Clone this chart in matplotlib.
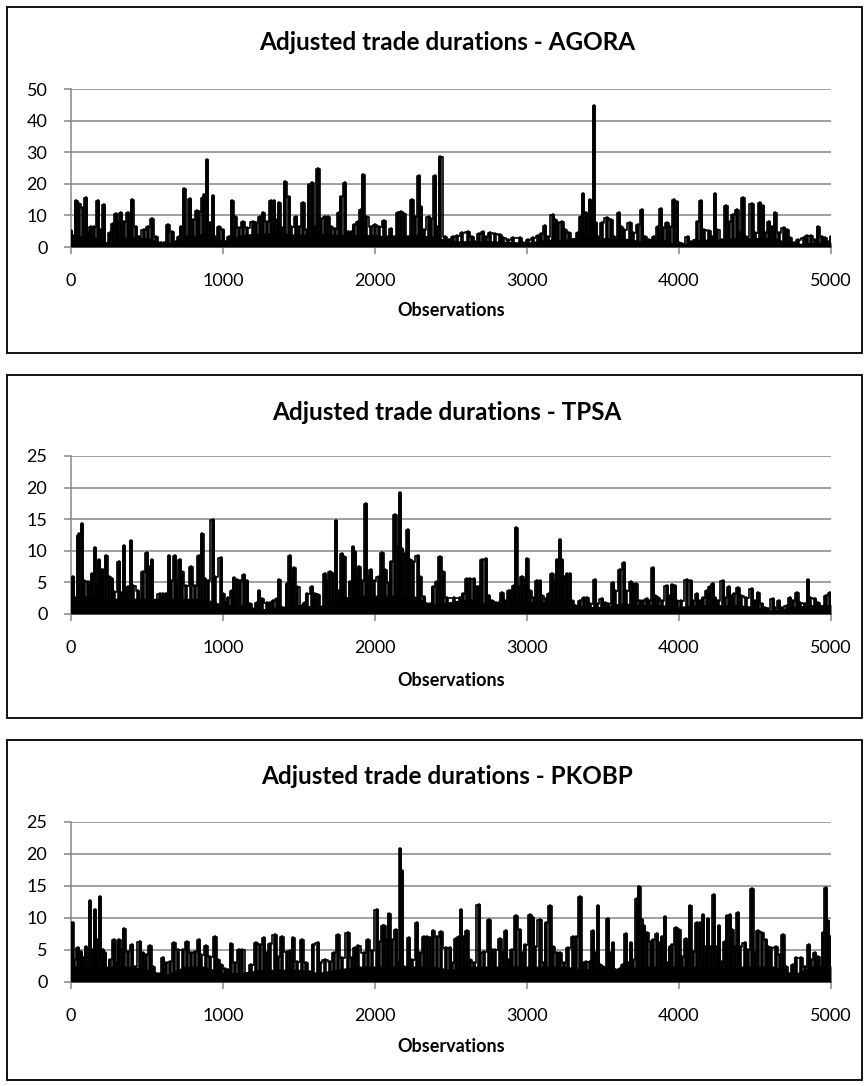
import matplotlib
matplotlib.use('Agg')
import matplotlib.pyplot as plt
from matplotlib.patches import Rectangle

plt.rcParams['font.family'] = ['Lato', 'DejaVu Sans']

W, H = 867, 1086

# ---------------- data ----------------
titles = ['Adjusted trade durations - AGORA',
          'Adjusted trade durations - TPSA',
          'Adjusted trade durations - PKOBP']
x_label = 'Observations'
x_ticks = [0, 1000, 2000, 3000, 4000, 5000]

# (observation, duration) key points of each series
agora_points = [
    (0, 5), (15, 3.5), (33, 14.7), (55, 13.5), (76, 12.4), (98, 15.4), (110, 4.3), (130, 6.4),
    (150, 6.4), (175, 14.6), (195, 5.4), (214, 13.3), (235, 1), (257, 4.3), (275, 7.2), (295, 10.4),
    (310, 8), (327, 10.9), (350, 8), (377, 10.7), (390, 7), (403, 14.9), (425, 6.4), (447, 3.3),
    (480, 5.4), (506, 6.4), (534, 9), (560, 3.3), (590, 1.2), (610, 1.2), (637, 7), (665, 4.9),
    (690, 1.7), (710, 3.3), (725, 6.4), (746, 18.4), (765, 3.3), (781, 15.2), (803, 8.5), (829, 11.5),
    (845, 11.2), (868, 15.4), (877, 16.5), (894, 27.5), (915, 7.5), (934, 16.1), (950, 3.3), (971, 6.2),
    (1000, 5.4), (1015, 1.7), (1040, 3.3), (1062, 14.6), (1080, 9.6), (1106, 5.9), (1134, 8), (1160, 6),
    (1195, 7.8), (1220, 7.5), (1243, 9.6), (1265, 10.7), (1290, 8), (1313, 14.6), (1335, 14.6), (1352, 8.5),
    (1370, 13.8), (1390, 5.9), (1411, 20.7), (1433, 15.7), (1450, 6.4), (1479, 9.6), (1500, 6.4), (1527, 14),
    (1550, 5.4), (1566, 19.6), (1588, 20.4), (1605, 6.4), (1625, 24.6), (1647, 9), (1669, 9.6), (1690, 9.6),
    (1712, 6.4), (1739, 5.6), (1760, 10.7), (1778, 15.9), (1800, 20.1), (1820, 4.9), (1843, 4.9), (1865, 7),
    (1887, 8), (1905, 11.7), (1924, 22.8), (1942, 9.6), (1975, 6.4), (2000, 7), (2025, 6.4), (2062, 8.3),
    (2080, 3.3), (2105, 5.6), (2125, 3.3), (2149, 10.7), (2171, 11.2), (2193, 10.4), (2215, 3.3), (2243, 14.9),
    (2265, 9.6), (2290, 22.5), (2300, 12.8), (2320, 5.4), (2352, 9.6), (2370, 9), (2395, 22.5), (2410, 6.4),
    (2428, 28.6), (2463, 3.3), (2490, 2.2), (2510, 3.3), (2540, 3.6), (2572, 4.3), (2612, 4.6), (2640, 3.3),
    (2660, 1.7), (2681, 4.1), (2708, 4.6), (2730, 3.3), (2758, 4.3), (2790, 4), (2823, 3.8), (2845, 2.7),
    (2878, 2.2), (2910, 2.7), (2954, 3), (2975, 1.4), (3008, 2.2), (3040, 2.7), (3074, 3.6), (3095, 4.1),
    (3118, 6.8), (3135, 3.3), (3168, 10.1), (3185, 8.5), (3205, 7.5), (3231, 8), (3250, 5.4), (3275, 4.3),
    (3305, 2.2), (3336, 4.3), (3353, 9.6), (3369, 16.8), (3385, 10.7), (3398, 7.5), (3414, 14.9), (3427, 14.3),
    (3441, 44.6), (3456, 7.5), (3470, 3.3), (3493, 7.5), (3526, 9.3), (3554, 8.5), (3575, 3.3), (3604, 10.9),
    (3620, 6.4), (3640, 5.4), (3676, 7.7), (3700, 4.3), (3728, 7), (3755, 11.7), (3777, 3.3), (3805, 2.2),
    (3838, 3.3), (3859, 6.4), (3881, 11.9), (3898, 5.9), (3920, 7.7), (3942, 6.4), (3964, 14.9), (3986, 14.1),
    (4000, 1.2), (4020, 1), (4056, 3.3), (4078, 1.7), (4110, 2.2), (4121, 8), (4143, 14.6), (4165, 5.4),
    (4198, 5), (4220, 3.3), (4235, 16.7), (4253, 5.4), (4285, 2.2), (4311, 13), (4329, 8), (4355, 10.1),
    (4383, 11.7), (4400, 4.3), (4422, 15.6), (4444, 3.3), (4481, 13.6), (4503, 4.3), (4531, 13.8), (4553, 13),
    (4568, 4.3), (4590, 7.8), (4612, 6.4), (4634, 10.9), (4656, 4.3), (4688, 6.1), (4710, 5.4), (4732, 2.7),
    (4754, 1.2), (4786, 2.2), (4820, 2.7), (4841, 3.5), (4867, 3.6), (4895, 2.2), (4917, 6.4), (4939, 3.3),
    (4961, 2.7), (4983, 1.7), (5000, 3.3),
]

tpsa_points = [
    (0, 3.7), (15, 5.8), (29, 2.6), (44, 12.3), (55, 12.7), (73, 14.3), (88, 5.3), (110, 5), (130, 5),
    (139, 6.3), (161, 10.4), (172, 4.5), (187, 8.5), (198, 6.9), (213, 6.9), (231, 9.1), (253, 5.8),
    (270, 5.5), (286, 3.5), (319, 8.2), (330, 3.3), (348, 10.8), (363, 3.7), (374, 4.2), (396, 11.5),
    (411, 4.5), (440, 3.6), (451, 2.1), (473, 6.6), (499, 9.7), (517, 7.4), (535, 8.5), (550, 2.1),
    (583, 3.2), (605, 3.2), (627, 3.2), (645, 9.1), (660, 5.3), (682, 9.1), (697, 5.3), (715, 8.5),
    (733, 6.6), (759, 4.5), (792, 7.4), (814, 4.5), (843, 9.2), (865, 12.6), (880, 5.5), (902, 5.3),
    (931, 14.8), (946, 5.8), (990, 8.8), (1001, 3.2), (1019, 1.7), (1034, 2.6), (1056, 3.7), (1071, 5.7),
    (1089, 5.4), (1111, 5.3), (1137, 6.2), (1155, 5.3), (1177, 1.6), (1199, 0.6), (1221, 1.7), (1239, 3.7),
    (1254, 2.4), (1287, 1.8), (1309, 1.8), (1331, 2.1), (1353, 2.4), (1371, 5.4), (1386, 1), (1408, 0.8),
    (1419, 4.8), (1441, 9.1), (1456, 5.3), (1470, 7.3), (1490, 4.2), (1518, 1.3), (1540, 1.8), (1555, 3.2),
    (1584, 4.2), (1606, 3.2), (1628, 3), (1650, 0.5), (1668, 6.4), (1683, 5.3), (1705, 6.6), (1723, 6.3),
    (1745, 14.7), (1760, 3.7), (1782, 9.5), (1797, 9), (1815, 1.6), (1837, 5), (1855, 10.6), (1870, 9.8),
    (1881, 5.8), (1896, 7.4), (1914, 5.3), (1940, 17.4), (1951, 5.8), (1973, 6.9), (1991, 5.3), (2024, 5.8),
    (2046, 9.6), (2068, 6.9), (2090, 4.9), (2108, 8.2), (2134, 15.7), (2149, 10.6), (2167, 19.1), (2178, 10.3),
    (2196, 9.5), (2215, 13.3), (2233, 8.5), (2251, 8.2), (2281, 9.2), (2299, 5.8), (2321, 2.7), (2343, 1.3),
    (2365, 1.6), (2383, 4.2), (2405, 5), (2427, 9), (2450, 6.6), (2475, 2.5), (2520, 2.5), (2562, 2.5),
    (2580, 3.2), (2606, 5.5), (2628, 5.5), (2650, 5.5), (2668, 4.2), (2683, 4.2), (2705, 8.5), (2731, 8.7),
    (2748, 2.9), (2770, 2.1), (2798, 1.8), (2813, 1.8), (2836, 3.3), (2858, 2.1), (2880, 3.7), (2895, 3.7),
    (2912, 4.5), (2930, 13.6), (2945, 4.2), (2967, 5.8), (2989, 5.3), (3000, 8.7), (3022, 3.7), (3044, 2.6),
    (3066, 5.3), (3083, 5.3), (3098, 2.9), (3127, 2.4), (3142, 3.2), (3164, 6.3), (3186, 5), (3197, 8.5),
    (3219, 11.7), (3230, 8.5), (3245, 5.8), (3263, 6.3), (3280, 6.4), (3296, 2.1), (3317, 1.3), (3350, 2.1),
    (3376, 2.6), (3394, 2.6), (3416, 1.6), (3449, 5.4), (3460, 1.6), (3492, 2.4), (3514, 1.8), (3536, 1.6),
    (3564, 4.9), (3580, 3.7), (3615, 6.9), (3635, 8), (3653, 3.7), (3683, 5.1), (3700, 4.8), (3718, 4.8),
    (3744, 2.1), (3766, 2.1), (3788, 2.4), (3805, 2.1), (3827, 7.2), (3843, 2.9), (3865, 2.6), (3887, 2.1),
    (3919, 4.5), (3937, 2.9), (3956, 4.6), (3974, 4.5), (3990, 2.1), (4012, 2.1), (4050, 5.4), (4076, 5.2),
    (4094, 2.1), (4116, 3.2), (4138, 2.1), (4160, 2.6), (4182, 3.7), (4204, 4.2), (4221, 4.8), (4236, 2.6),
    (4254, 2.1), (4287, 5.2), (4302, 2.6), (4328, 4.3), (4346, 2.9), (4363, 3.1), (4389, 4.1), (4411, 2.9),
    (4444, 2.6), (4481, 4), (4499, 2.1), (4521, 3.3), (4543, 1.6), (4565, 1), (4587, 0.8), (4616, 2.4),
    (4631, 1), (4659, 2), (4676, 1), (4708, 1.3), (4729, 2.6), (4751, 2.1), (4779, 3.3), (4796, 1.8),
    (4829, 1.6), (4849, 5.4), (4864, 2.6), (4893, 2.4), (4915, 1.8), (4937, 0.5), (4965, 2.9), (4991, 3.3),
    (5000, 3),
]

pkobp_points = [
    (0, 9.2), (10, 9.2), (22, 3.4), (44, 5.3), (66, 4.7), (81, 3.7), (99, 5.5), (113, 2.5), (125, 12.6),
    (143, 5), (156, 11.3), (172, 6.6), (191, 13.3), (209, 5), (224, 4.5), (242, 1.8), (257, 3.4), (286, 6.6),
    (300, 3), (319, 6.6), (337, 5), (348, 8.3), (374, 4.7), (400, 5.8), (418, 2.3), (451, 6.2), (473, 4.5),
    (491, 4.2), (523, 5.6), (539, 2.3), (567, 1), (583, 1.3), (604, 3.7), (626, 2.9), (649, 3.2), (675, 6.1),
    (704, 5), (737, 5), (765, 6.3), (792, 4.5), (814, 4.7), (840, 6.6), (858, 4.2), (890, 5.7), (913, 3.9),
    (949, 7.1), (966, 3.4), (988, 2.6), (1011, 2.1), (1033, 1.8), (1055, 5.9), (1077, 2.9), (1104, 5),
    (1128, 5), (1158, 1.3), (1186, 2.6), (1216, 6.1), (1243, 5.8), (1270, 6.9), (1287, 4.5), (1309, 5.9),
    (1342, 7.3), (1364, 3.9), (1386, 7.1), (1419, 4.7), (1441, 4.8), (1463, 6.8), (1489, 3.2), (1518, 6.6),
    (1544, 2.9), (1573, 1.6), (1595, 5.8), (1622, 6.1), (1639, 2.9), (1670, 3.4), (1705, 3.2), (1727, 4.5),
    (1754, 7.4), (1780, 3.7), (1824, 7.6), (1846, 3.7), (1868, 5.3), (1890, 5.7), (1925, 4.5), (1952, 6.5),
    (1979, 4.9), (2011, 11.3), (2029, 6.3), (2051, 8.8), (2062, 8.7), (2079, 6.6), (2094, 10.7), (2112, 6.6),
    (2138, 8.1), (2156, 2.9), (2167, 20.8), (2178, 17.4), (2193, 2.3), (2222, 6.8), (2244, 3.4), (2277, 9.2),
    (2294, 4.5), (2321, 7.1), (2343, 7.1), (2361, 6.8), (2383, 7.9), (2405, 7.1), (2431, 7.8), (2464, 5.3),
    (2492, 5.3), (2508, 2.9), (2530, 6.7), (2552, 7.1), (2567, 11.3), (2584, 7.1), (2606, 7.9), (2628, 3.4),
    (2650, 2.9), (2683, 12.1), (2694, 4.5), (2716, 4.7), (2753, 9.7), (2770, 5), (2792, 5), (2825, 6.7),
    (2843, 4.5), (2860, 7.9), (2880, 3.4), (2902, 5), (2930, 10.3), (2952, 8.2), (2967, 4.5), (2989, 5.8),
    (3022, 10.4), (3039, 10), (3054, 5.5), (3083, 9.7), (3109, 2.9), (3127, 9.2), (3153, 11.8), (3171, 5.5),
    (3197, 4.5), (3219, 4.5), (3241, 2.9), (3273, 5.3), (3302, 7.1), (3324, 7.1), (3350, 13.3), (3368, 2.9),
    (3390, 3.2), (3416, 3.2), (3431, 7.9), (3449, 4.5), (3466, 11.8), (3481, 2.6), (3503, 2.3), (3532, 9.9),
    (3547, 4.5), (3565, 6.1), (3580, 1.8), (3613, 2.1), (3630, 2.6), (3650, 7.5), (3668, 2.9), (3683, 6.1),
    (3700, 3.4), (3722, 12.9), (3740, 14.9), (3755, 9.7), (3770, 8.7), (3788, 7.6), (3814, 6.3), (3832, 6.6),
    (3853, 7.5), (3875, 6.1), (3890, 7.1), (3908, 10.2), (3925, 2.9), (3940, 5.5), (3952, 5.8), (3980, 8.4),
    (4002, 8.2), (4018, 3.9), (4044, 6.7), (4061, 5), (4072, 11.8), (4094, 4.7), (4116, 9.2), (4138, 9.2),
    (4160, 10.4), (4175, 5.5), (4193, 9.8), (4208, 5.5), (4231, 13.6), (4247, 5.5), (4263, 8.7), (4280, 3.2),
    (4302, 6.3), (4317, 10.3), (4335, 10.5), (4350, 8.2), (4368, 5.5), (4385, 10.8), (4400, 5.5), (4433, 6.1),
    (4455, 5), (4483, 14.5), (4498, 4.5), (4520, 7.9), (4549, 7.7), (4571, 6.6), (4586, 5.5), (4608, 5.3),
    (4641, 5.5), (4663, 4.2), (4685, 7.4), (4707, 2.3), (4728, 1.3), (4750, 2.6), (4772, 3.7), (4805, 3.7),
    (4827, 2.3), (4855, 5.8), (4871, 3.4), (4893, 4.5), (4915, 3.9), (4937, 1.3), (4948, 7.6), (4965, 14.7),
    (4980, 9.5), (5000, 7.1),
]

# level of the solid black mass, every 125 observations (0 ... 5000)
band_obs = list(range(0, 5001, 125))
agora_band = [3.5, 4, 1.2, 3.5, 3, 1.2, 3, 4.5, 2, 4, 4.5, 4.5, 4, 4.5, 4, 4, 4, 3, 4, 3.5, 2,
              2, 2, 1.8, 1.5, 2.5, 2.5, 3.5, 3, 3, 2, 3, 0.5, 2.5, 2.5, 3, 3, 3, 1, 1.5, 1.5]
tpsa_band = [2.5, 3, 2.5, 2.5, 2.5, 2.5, 2.5, 2.5, 1.5, 1.5, 0.8, 1.2, 1.5, 1.2, 2.5, 3, 3, 3, 3, 1.5, 2,
             2.5, 1.5, 2, 2, 2, 2, 1.2, 1.2, 1.8, 1.5, 1.5, 1.2, 1.5, 1.5, 1.5, 1.2, 0.6, 1.2, 1.5, 1.5]
pkobp_band = [2.5, 2.5, 2.5, 2.5, 2, 1.2, 2.5, 2.5, 1.5, 1.5, 2, 2, 2, 1.5, 2, 2.5, 2.5, 2.5, 2.5, 2.5, 2,
              2.5, 2.5, 2.5, 2.5, 2.5, 2.5, 2, 2.5, 2, 2.5, 2.5, 2.5, 2.5, 2.5, 2.5, 2.5, 2.5, 1.2, 2.5, 2.5]

y_ticks = [list(range(0, 51, 10)), list(range(0, 26, 5)), list(range(0, 26, 5))]

# ---------------- layout (pixels) ----------------
panels = [
    dict(points=agora_points, band=agora_band, yt=y_ticks[0],
         ax=(71, 89, 831, 247), frame=(7, 7, 862, 353), title_y=42, xlabel_y=311),
    dict(points=tpsa_points, band=tpsa_band, yt=y_ticks[1],
         ax=(71, 456, 831, 614), frame=(7, 375, 862, 718), title_y=413, xlabel_y=680),
    dict(points=pkobp_points, band=pkobp_band, yt=y_ticks[2],
         ax=(71, 822, 831, 982), frame=(7, 740, 862, 1080), title_y=777, xlabel_y=1047),
]

GRID = '#868686'
fig = plt.figure(figsize=(W / 100, H / 100), dpi=100)

for title, p in zip(titles, panels):
    l, t, r, b = p['ax']
    ax = fig.add_axes([l / W, 1 - b / H, (r - l) / W, (b - t) / H])
    obs = [o for o, v in p['points']]
    val = [v for o, v in p['points']]
    ax.fill_between(band_obs, 0, p['band'], color='black', lw=0, zorder=3)
    ax.plot(obs, val, color='black', lw=1.2, zorder=4, drawstyle='steps-mid')
    ax.vlines(obs, 0, val, color='black', lw=2.6, zorder=4, capstyle='round')
    ax.set_xlim(0, 5000)
    ax.set_ylim(0, p['yt'][-1])
    ax.set_xticks(x_ticks)
    ax.set_xticklabels([str(x) for x in x_ticks])
    ax.set_yticks(p['yt'])
    ax.set_yticklabels([str(y) for y in p['yt']])
    ax.grid(axis='y', color=GRID, lw=1.1, zorder=1)
    for s in ['top', 'right']:
        ax.spines[s].set_visible(False)
    for s in ['left', 'bottom']:
        ax.spines[s].set_color(GRID)
        ax.spines[s].set_linewidth(1.1)
    ax.tick_params(axis='y', length=5, width=1.1, color=GRID, pad=12, labelsize=13)
    ax.tick_params(axis='x', length=5, width=1.1, color=GRID, pad=14, labelsize=13)
    ax.set_axisbelow(True)

    fx0, fy0, fx1, fy1 = p['frame']
    fig.add_artist(Rectangle((fx0 / W, 1 - fy1 / H), (fx1 - fx0) / W, (fy1 - fy0) / H,
                             transform=fig.transFigure, fill=False, edgecolor='black', lw=1.3))
    fig.text(447 / W, 1 - p['title_y'] / H, title, ha='center', va='center',
             fontsize=17.5, fontweight='bold')
    fig.text(451 / W, 1 - p['xlabel_y'] / H, x_label, ha='center', va='center',
             fontsize=13, fontweight='bold')

fig.savefig('out.png', dpi=100)
